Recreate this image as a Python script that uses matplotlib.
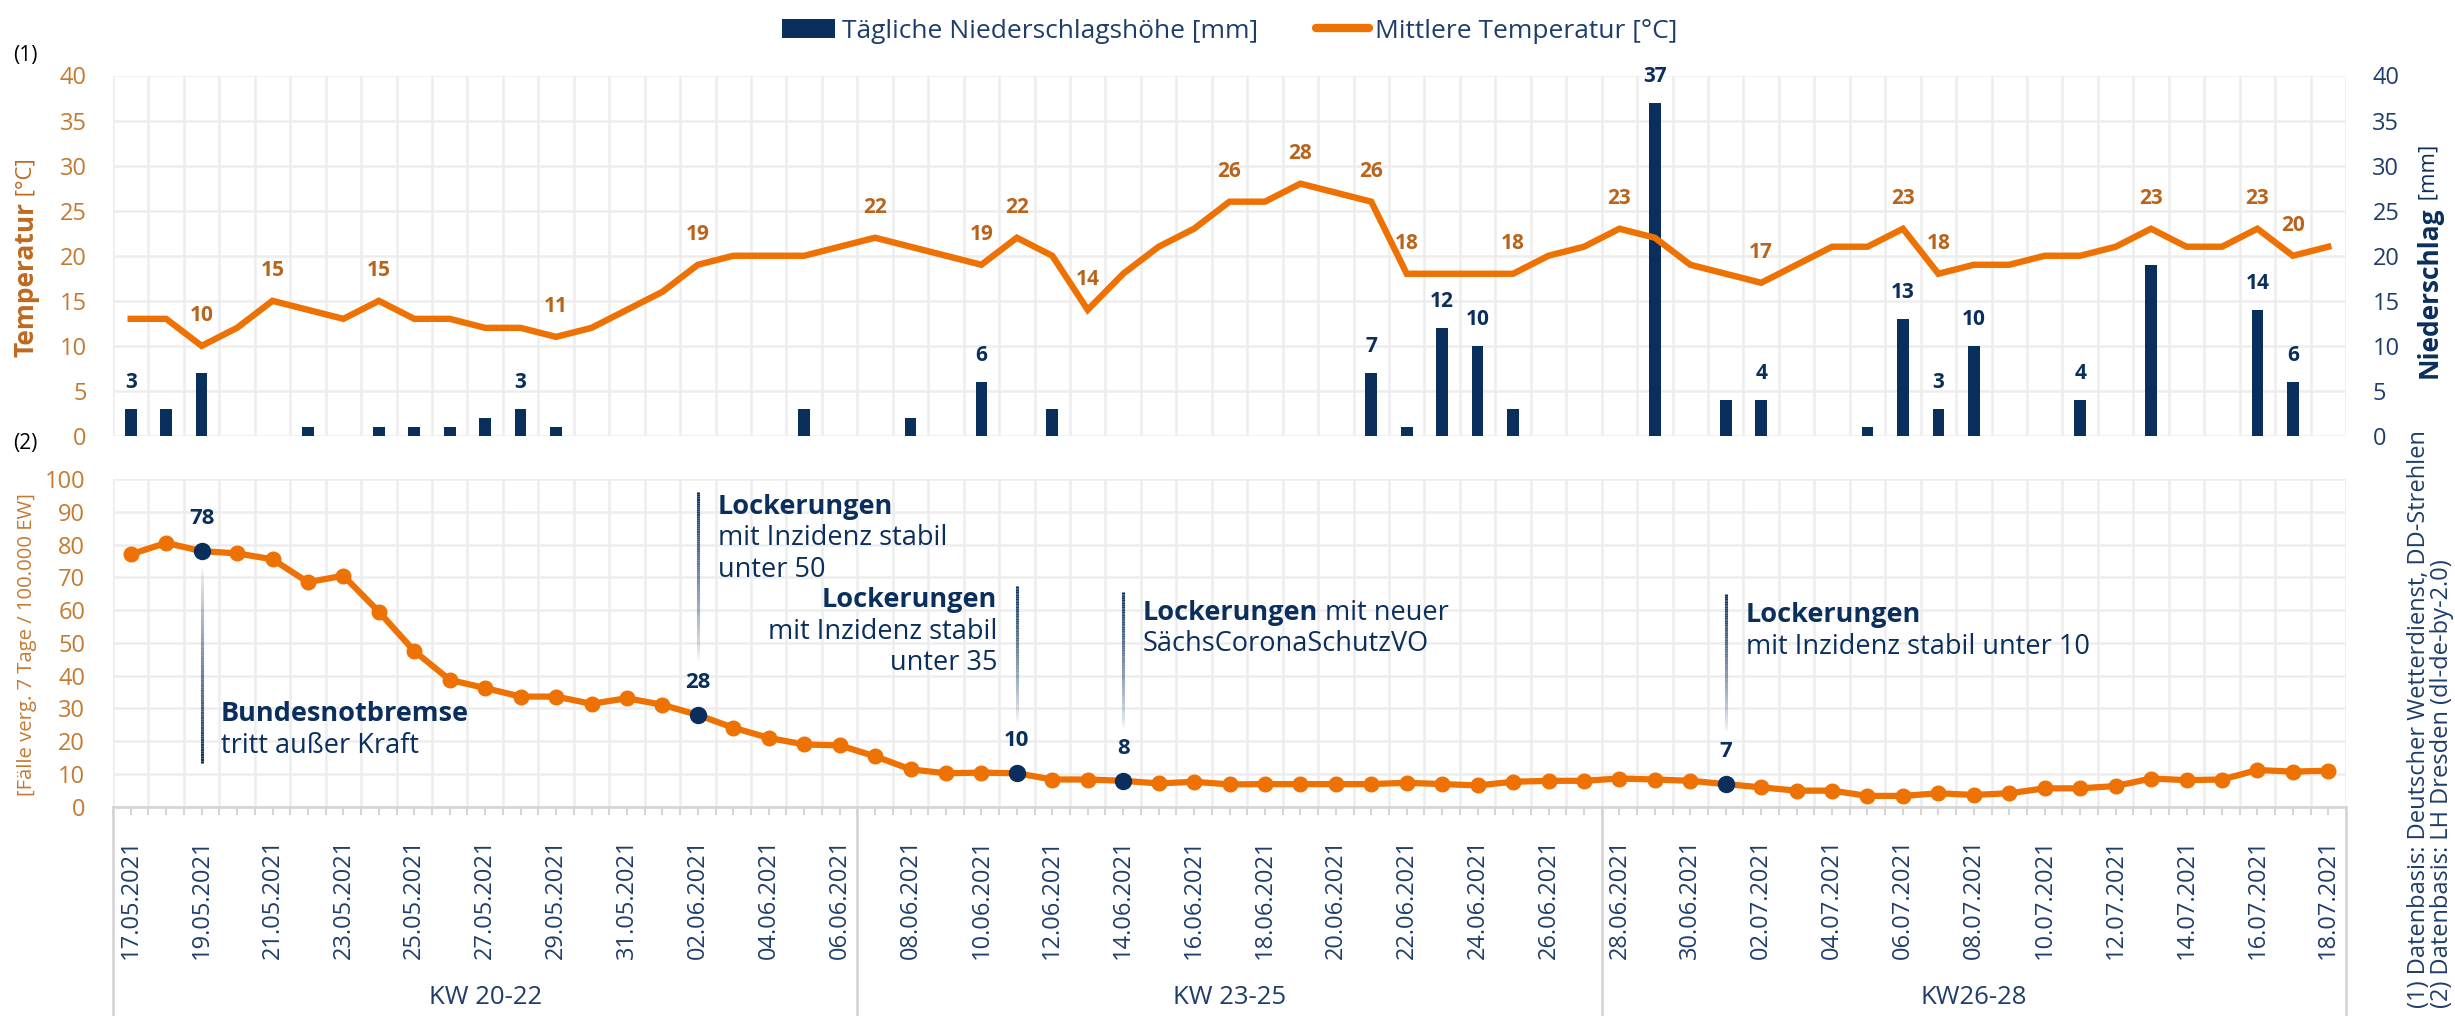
import numpy as np
import pandas as pd
import matplotlib
matplotlib.use('Agg')
import matplotlib.pyplot as plt
from matplotlib.collections import LineCollection
from matplotlib.patches import Patch
from matplotlib.lines import Line2D
from matplotlib.text import Annotation

plt.rcParams['font.family'] = ['Open Sans', 'DejaVu Sans']

# Colours
navy = '#0A2F5C'
orange = '#EE7203'
orange_txt = '#C47A32'
orange_lbl = '#B8641C'
grid_c = '#EDEDED'

# Data (17.05.2021 - 18.07.2021)
dates = pd.date_range('2021-05-17', '2021-07-18', freq='D')
date_labels = [d.strftime('%d.%m.%Y') for d in dates]

temperature = [13, 13, 10, 12, 15, 14, 13, 15, 13, 13, 12, 12, 11, 12, 14, 16, 19, 20, 20, 20, 21,
               22, 21, 20, 19, 22, 20, 14, 18, 21, 23, 26, 26, 28, 27, 26, 18, 18, 18, 18, 20, 21,
               23, 22, 19, 18, 17, 19, 21, 21, 23, 18, 19, 19, 20, 20, 21, 23, 21, 21, 23, 20, 21]
temp_labelled = [2, 4, 7, 12, 16, 21, 24, 25, 27, 31, 33, 35, 36, 39, 42, 46, 50, 51, 57, 60, 61]

precipitation = [3, 3, 7, 0, 0, 1, 0, 1, 1, 1, 2, 3, 1, 0, 0, 0, 0, 0, 0, 3, 0,
                 0, 2, 0, 6, 0, 3, 0, 0, 0, 0, 0, 0, 0, 0, 7, 1, 12, 10, 3, 0, 0,
                 0, 37, 0, 4, 4, 0, 0, 1, 13, 3, 10, 0, 0, 4, 0, 19, 0, 0, 14, 6, 0]
precip_labelled = [0, 11, 24, 35, 37, 38, 43, 46, 50, 51, 52, 55, 60, 61]

incidence = [77, 80.5, 78, 77.3, 75.5, 68.5, 70.5, 59.5, 47.5, 38.7, 36.2, 33.6, 33.6, 31.4, 33.1,
             31.1, 28, 24.1, 21, 19, 18.7, 15.4, 11.4, 10.2, 10.4, 10.2, 8.3, 8.3, 7.9, 7.1, 7.6,
             6.8, 6.9, 6.9, 6.9, 6.9, 7.3, 6.9, 6.5, 7.6, 7.9, 7.9, 8.6, 8.3, 7.9, 6.9, 5.9, 4.9,
             4.9, 3.3, 3.3, 4.1, 3.6, 4.1, 5.6, 5.6, 6.3, 8.6, 8.1, 8.3, 11.2, 10.7, 11]
highlight = [2, 16, 25, 28, 45]
highlight_text = ['78', '28', '10', '8', '7']

weeks = ['KW 20-22', 'KW 23-25', 'KW26-28']
week_bounds = [-0.5, 20.5, 41.5, 62.5]

# annotations: x, y_dark, y_light, text x, align, lines [(y, [(text, bold), ...]), ...]
events = [
    (2, 13.3, 73.5, 2.55, 'left', [(28.3, [('Bundesnotbremse', True)]),
                                   (18.4, [('tritt außer Kraft', False)])]),
    (16, 96, 44, 16.56, 'left', [(91.5, [('Lockerungen', True)]),
                                 (82, [('mit Inzidenz stabil', False)]),
                                 (72.3, [('unter 50', False)])]),
    (25, 67.4, 25.5, 24.45, 'right', [(63, [('Lockerungen', True)]),
                                      (53.4, [('mit Inzidenz stabil', False)]),
                                      (43.9, [('unter 35', False)])]),
    (28, 65.5, 23.5, 28.56, 'left', [(59.2, [('Lockerungen', True), (' mit neuer', False)]),
                                     (49.6, [('SächsCoronaSchutzVO', False)])]),
    (45, 64.8, 22.5, 45.56, 'left', [(58.4, [('Lockerungen', True)]),
                                     (48.6, [('mit Inzidenz stabil unter 10', False)])]),
]

W, H = 2455, 1016
fig = plt.figure(figsize=(W / 100, H / 100), dpi=100)
left, right = 113, 2346
ax1 = fig.add_axes([left / W, 1 - 436 / H, (right - left) / W, 360.5 / H])
ax2 = fig.add_axes([left / W, 1 - 806.7 / H, (right - left) / W, 327.7 / H])

x = np.arange(len(dates))

# ---------- top panel: temperature + precipitation ----------
ax1.bar(x, precipitation, width=0.33, color=navy, zorder=2)
ax1.plot(x, temperature, color=orange, lw=4.6, solid_joinstyle='miter', zorder=3)
for i in temp_labelled:
    ax1.text(i, temperature[i] + 3.4, str(temperature[i]), ha='center', va='center',
             fontsize=15, fontweight='bold', color=orange_lbl, zorder=4)
for i in precip_labelled:
    ax1.text(i, precipitation[i] + 2.9, str(precipitation[i]), ha='center', va='center',
             fontsize=15, fontweight='bold', color=navy, zorder=4)

ax1.set_xlim(-0.5, 62.5)
ax1.set_ylim(0, 40)
ax1.set_yticks(range(0, 41, 5))
ax1.set_xticks([])
ax1.vlines(np.arange(-0.5, 63, 1), 0, 1, transform=ax1.get_xaxis_transform(),
           color=grid_c, lw=1.8, zorder=0)
ax1.grid(axis='y', color=grid_c, lw=1.8, zorder=0)
ax1.set_axisbelow(True)
for s in ax1.spines.values():
    s.set_visible(False)
ax1.tick_params(axis='y', length=0, pad=19, labelsize=17, labelcolor=orange_txt)

axr = ax1.twinx()
axr.set_ylim(0, 40)
axr.set_yticks(range(0, 41, 5))
for s in axr.spines.values():
    s.set_visible(False)
axr.tick_params(axis='y', length=0, pad=19, labelsize=17, labelcolor='#1F3D6B')

# ---------- bottom panel: incidence ----------
ax2.plot(x, incidence, color=orange, lw=4.5, marker='o', ms=10.5, zorder=3)
hx = np.array(highlight)
hy = np.array([incidence[i] for i in highlight])
ax2.plot(hx, hy, 'o', color=navy, ms=11.5, zorder=4)
for i, t in zip(highlight, highlight_text):
    ax2.text(i, incidence[i] + 10, t, ha='center', va='center', fontsize=16,
             fontweight='bold', color=navy, zorder=5)


def grad_line(ax, xv, y_dark, y_light, n=80):
    ys = np.linspace(y_dark, y_light, n + 1)
    segs = [[(xv, ys[k]), (xv, ys[k + 1])] for k in range(n)]
    cols = np.zeros((n, 4))
    cols[:, :3] = matplotlib.colors.to_rgb(navy)
    cols[:, 3] = np.linspace(1.0, 0.0, n) ** 0.8
    ax.add_collection(LineCollection(segs, colors=cols, linewidths=2.2, zorder=2))


ann_size = 19.5
for xv, yd, yl, tx, al, lines in events:
    grad_line(ax2, xv, yd, yl)
    for yv, parts in lines:
        if al == 'right':
            ax2.text(tx, yv, parts[0][0], ha='right', va='center', fontsize=ann_size,
                     fontweight='bold' if parts[0][1] else 'normal', color=navy, zorder=5)
            continue
        prev = None
        for txt, bold in parts:
            kw = dict(va='center', ha='left', fontsize=ann_size, color=navy, zorder=5,
                      fontweight='bold' if bold else 'normal')
            if prev is None:
                prev = ax2.text(tx, yv, txt, **kw)
            else:
                prev = ax2.annotate(txt, xy=(1, 0.5), xycoords=prev, **kw)

ax2.set_xlim(-0.5, 62.5)
ax2.set_ylim(0, 100)
ax2.set_yticks(range(0, 101, 10))
ax2.vlines(np.arange(-0.5, 63, 1), 0, 1, transform=ax2.get_xaxis_transform(),
           color=grid_c, lw=1.8, zorder=0)
ax2.grid(axis='y', color=grid_c, lw=1.8, zorder=0)
ax2.set_axisbelow(True)
for k in ['top', 'left', 'right']:
    ax2.spines[k].set_visible(False)
ax2.spines['bottom'].set_color('#D6D6D6')
ax2.spines['bottom'].set_linewidth(2)
ax2.tick_params(axis='y', length=0, pad=20, labelsize=17, labelcolor=orange_txt)

ax2.set_xticks(x[::2])
ax2.set_xticklabels(date_labels[::2])
ax2.set_xticks(np.arange(-0.5, 63, 0.5), minor=True)
ax2.tick_params(axis='x', which='major', length=6, width=1.5, color='#D6D6D6', pad=17,
                labelrotation=90, labelsize=17, labelcolor='#1F3D6B')
ax2.tick_params(axis='x', which='minor', length=6, width=1.5, color='#D6D6D6')

# week separators and labels below the axis
trans = ax2.get_xaxis_transform()
for b in week_bounds:
    ax2.add_line(Line2D([b, b], [0, -0.64], transform=trans, color='#D6D6D6', lw=2,
                        clip_on=False))
for k, wl in enumerate(weeks):
    c = (week_bounds[k] + week_bounds[k + 1]) / 2
    ax2.text(c, -0.581, wl, transform=trans, ha='center', va='center', fontsize=18.5,
             color='#1F3D6B')

# axis titles
t1 = fig.text(26 / W, 1 - 357 / H, 'Temperatur', rotation=90, ha='center', va='bottom',
              fontsize=19, fontweight='bold', color='#BD6A21')
fig.add_artist(Annotation(' [°C]', xy=(0.5, 1), xycoords=t1, rotation=90,
                          ha='center', va='bottom', fontsize=16, color='#BD6A21'))

t2 = fig.text(2429 / W, 1 - 378 / H, 'Niederschlag', rotation=90, ha='center', va='bottom',
              fontsize=19, fontweight='bold', color=navy)
fig.add_artist(Annotation(' [mm]', xy=(0.5, 1), xycoords=t2, rotation=90,
                          ha='center', va='bottom', fontsize=16, color=navy))

fig.text(27 / W, 1 - 645 / H, '[Fälle verg. 7 Tage / 100.000 EW]', rotation=90,
         ha='center', va='center', fontsize=14.6, color='#C47A32')

fig.text(13 / W, 1 - 56 / H, '(1)', ha='left', va='center', fontsize=15, color='black')
fig.text(13 / W, 1 - 443 / H, '(2)', ha='left', va='center', fontsize=15, color='black')

fig.text(2419 / W, 1 - 1008 / H, '(1) Datenbasis: Deutscher Wetterdienst, DD-Strehlen',
         rotation=90, ha='center', va='bottom', fontsize=17, color='#1F3D6B')
fig.text(2442 / W, 1 - 1008 / H, '(2) Datenbasis: LH Dresden (dl-de-by-2.0)',
         rotation=90, ha='center', va='bottom', fontsize=17, color='#1F3D6B')

# legend
handles = [Patch(facecolor=navy, edgecolor='none'),
           Line2D([], [], color=orange, lw=6, solid_capstyle='round')]
fig.legend(handles, ['Tägliche Niederschlagshöhe [mm]', 'Mittlere Temperatur [°C]'],
           loc='upper center', bbox_to_anchor=(0.501, 1.005), ncol=2, frameon=False,
           fontsize=19, handlelength=2.0, handleheight=0.7, handletextpad=0.25,
           columnspacing=2.2, labelcolor='#1F3D6B')

fig.savefig('out.png', dpi=100)
